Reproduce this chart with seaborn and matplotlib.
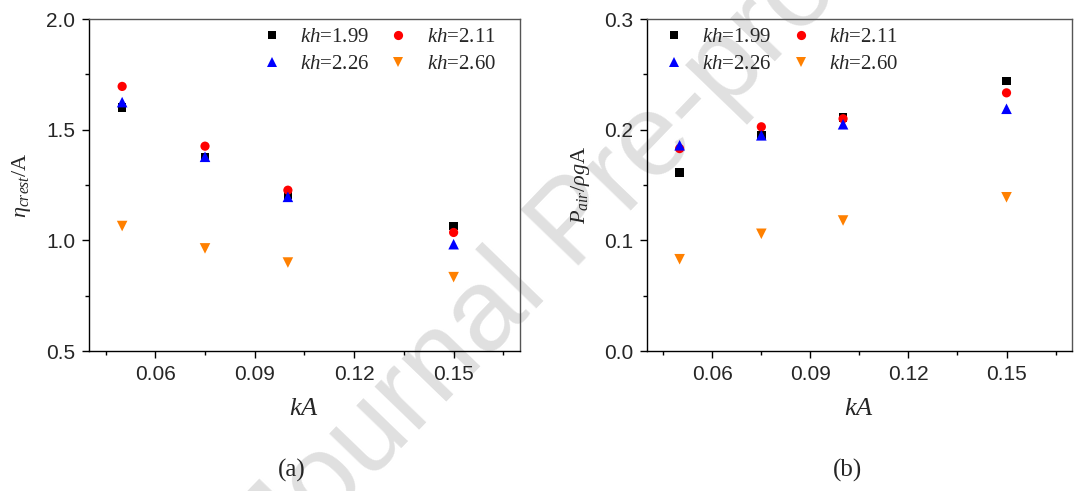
import numpy as np
import pandas as pd
import matplotlib
matplotlib.use('Agg')
import matplotlib.pyplot as plt
from matplotlib.ticker import MultipleLocator, AutoMinorLocator
import seaborn as sns

# Data
kA = [0.05, 0.075, 0.10, 0.15]
kh_labels = ['1.99', '2.11', '2.26', '2.60']

crest_199 = [1.600, 1.375, 1.205, 1.065]
crest_211 = [1.696, 1.426, 1.227, 1.036]
crest_226 = [1.625, 1.378, 1.197, 0.983]
crest_260 = [1.065, 0.964, 0.900, 0.834]

pair_199 = [0.1615, 0.195, 0.211, 0.244]
pair_211 = [0.183, 0.2027, 0.210, 0.2334]
pair_226 = [0.186, 0.195, 0.205, 0.219]
pair_260 = [0.083, 0.106, 0.118, 0.139]

colors = {'1.99': 'black', '2.11': '#ff0000', '2.26': '#0000ff', '2.60': '#ff8000'}
markers = {'1.99': 's', '2.11': 'o', '2.26': '^', '2.60': 'v'}
msizes = {'1.99': 38, '2.11': 44, '2.26': 58, '2.60': 58}


def make_df(series):
    rows = []
    for kh, vals in zip(kh_labels, series):
        for x, y in zip(kA, vals):
            rows.append({'kA': x, 'val': y, 'kh': kh})
    return pd.DataFrame(rows)


df_crest = make_df([crest_199, crest_211, crest_226, crest_260])
df_pair = make_df([pair_199, pair_211, pair_226, pair_260])

sns.set_style('ticks')
plt.rcParams['font.family'] = ['Liberation Sans', 'DejaVu Sans']
plt.rcParams['mathtext.fontset'] = 'custom'
plt.rcParams['mathtext.rm'] = 'Liberation Serif'
plt.rcParams['mathtext.it'] = 'Liberation Serif:italic'
plt.rcParams['mathtext.bf'] = 'Liberation Serif:bold'

fig = plt.figure(figsize=(10.8, 4.91), dpi=100)

# watermark behind everything
fig.text(0.532, 0.542, 'Journal Pre-proof', rotation=46, fontsize=84,
         color='#e0e0e0', ha='center', va='center', zorder=0,
         family='Liberation Sans', rotation_mode='anchor')

ax1 = fig.add_axes([0.0824, 0.285, 0.399, 0.676])
ax2 = fig.add_axes([0.599, 0.285, 0.3935, 0.676])


def draw(ax, df, ylim, ymaj, ylabel, leg_x):
    ax.set_facecolor('none')
    ax.set_zorder(1)
    sns.scatterplot(data=df, x='kA', y='val', hue='kh', style='kh', size='kh',
                    palette=colors, markers=markers, sizes=msizes, linewidth=0,
                    hue_order=kh_labels, style_order=kh_labels, size_order=kh_labels,
                    ax=ax, legend=True)
    ax.set_xlim(0.04, 0.17)
    ax.set_ylim(*ylim)
    ax.xaxis.set_major_locator(MultipleLocator(0.03))
    ax.xaxis.set_minor_locator(AutoMinorLocator(2))
    ax.yaxis.set_major_locator(MultipleLocator(ymaj))
    ax.yaxis.set_minor_locator(AutoMinorLocator(2))
    ax.tick_params(which='major', direction='out', length=5, width=1,
                   labelsize=15, color='black', pad=5)
    ax.tick_params(which='minor', direction='out', length=3, width=1, color='black')
    for side in ['left', 'bottom']:
        ax.spines[side].set_color('black')
        ax.spines[side].set_linewidth(1)
    for side in ['top', 'right']:
        ax.spines[side].set_visible(True)
        ax.spines[side].set_color('#555555')
        ax.spines[side].set_linewidth(1)
    ax.set_xlabel(r'$kA$', fontsize=19)
    ax.xaxis.set_label_coords(0.5, -0.135)
    ax.set_ylabel(ylabel, fontsize=16, family='Liberation Serif')
    ax.yaxis.set_label_coords(-0.13, 0.5)

    handles, labels = ax.get_legend_handles_labels()
    hmap = dict(zip(labels, handles))
    order = ['1.99', '2.26', '2.11', '2.60']
    ax.legend([hmap[k] for k in order], [r'$kh$=' + k for k in order],
              ncol=2, frameon=False, loc='upper left',
              bbox_to_anchor=(leg_x, 0.975), borderaxespad=0, borderpad=0,
              handlelength=1.0, handletextpad=0.85, columnspacing=0.9,
              labelspacing=0.35, prop={'family': 'Liberation Serif', 'size': 15})


draw(ax1, df_crest, (0.5, 2.0), 0.5, r'$\eta_{crest}$/A', 0.40)
draw(ax2, df_pair, (0.0, 0.3), 0.1, r'$P_{air}/\rho g$A', 0.039)

fig.text(292 / 1080, 1 - 470 / 491, '(a)', fontsize=18, family='Liberation Serif',
         ha='center', va='center')
fig.text(847 / 1080, 1 - 470 / 491, '(b)', fontsize=18, family='Liberation Serif',
         ha='center', va='center')

fig.savefig('out.png', dpi=100)
